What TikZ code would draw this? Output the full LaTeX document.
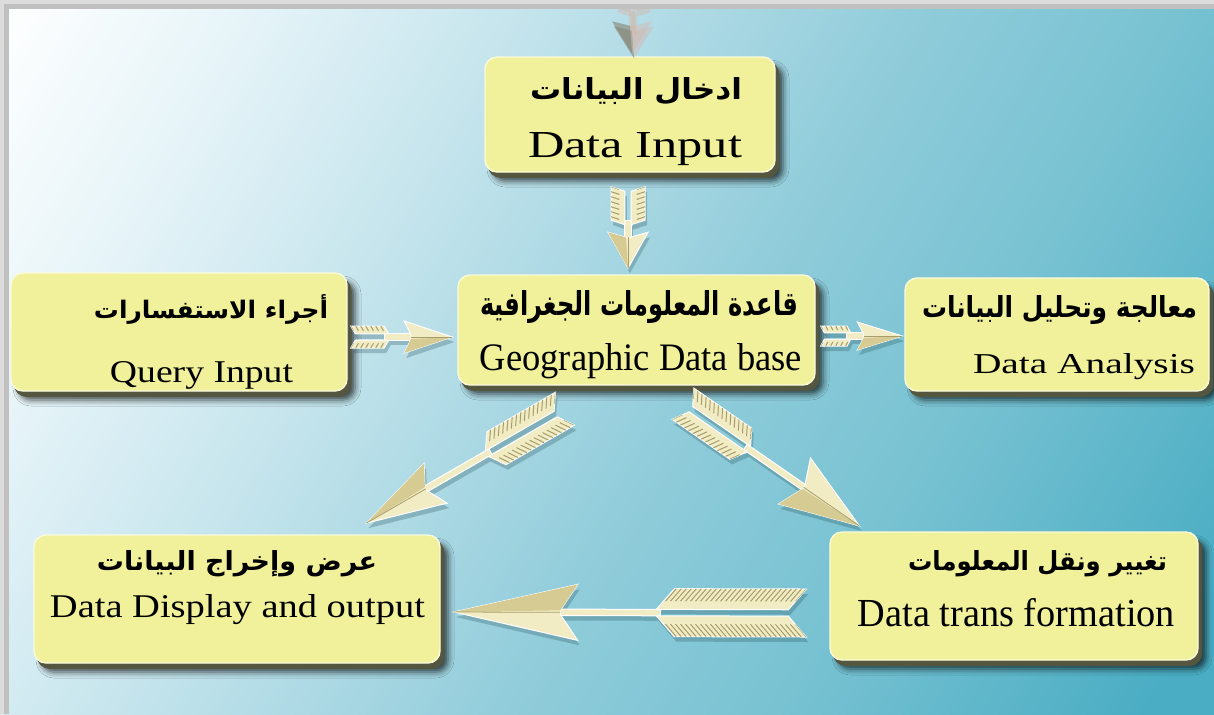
\documentclass[tikz,border=0pt]{standalone}
\usepackage{fontspec}
\setmainfont{Liberation Serif}
\newfontfamily\arabicfont[Script=Arabic]{DejaVu Sans}
\TeXXeTstate=1
\usetikzlibrary{calc,shadows.blur}

% palette
\definecolor{bgA}{HTML}{FFFFFF}
\definecolor{bgB}{HTML}{E6F4F8}
\definecolor{bgC}{HTML}{C6E5ED}
\definecolor{bgD}{HTML}{90CCDA}
\definecolor{bgE}{HTML}{78C2D2}
\definecolor{bgF}{HTML}{4AADC3}
\definecolor{boxyellow}{HTML}{F0F19A}
\definecolor{boxrim}{HTML}{FAFBDC}
\definecolor{boxbevel}{HTML}{55563F}
\definecolor{facream}{HTML}{F1ECC3}
\definecolor{fashade}{HTML}{D5CB93}
\definecolor{fastripe}{HTML}{A79D6B}
\definecolor{fashadow}{HTML}{24505A}
\definecolor{fadedpink}{HTML}{D9B3A8}
\definecolor{fadedgreen}{HTML}{56705F}
\definecolor{framelight}{HTML}{DCDCDC}
\definecolor{framedark}{HTML}{C0C0C0}

% the path box maps onto the 25bp..75bp band of the shading
\pgfdeclarehorizontalshading{bgsh}{100bp}{color(0bp)=(bgA); color(32.5bp)=(bgA);
  color(38bp)=(bgB); color(43.75bp)=(bgC); color(52.5bp)=(bgD);
  color(58.25bp)=(bgE); color(66.25bp)=(bgF); color(100bp)=(bgF)}

% one text line squeezed to a given width and height
\newcommand\arabline[3]{\resizebox{#1}{#2}{\arabicfont\bfseries #3}}
\newcommand\latnline[3]{\resizebox{#1}{#2}{#3}}

\tikzset{
  gbox/.style={rectangle, rounded corners=6pt, inner sep=0pt,
    fill=boxyellow, draw=boxrim, line width=0.7pt,
    blur shadow={shadow xshift=4pt, shadow yshift=-4.5pt,
      shadow blur radius=3pt, shadow opacity=70},
    preaction={fill=boxbevel, draw=boxbevel,
      transform canvas={xshift=1.8pt, yshift=-2.6pt}}},
  txt/.style={inner sep=0pt, anchor=base},
  fa body/.style={fill=facream, draw=white, line width=0.5pt},
  fa dark/.style={fill=fashade},
  fa stripe/.style={draw=fastripe, line width=0.5pt},
  fa ridge/.style={draw=fastripe, line width=0.4pt},
  fa shadowcopy/.style={
    fa body/.style={fill=fashadow, fill opacity=0.28, draw=none},
    fa dark/.style={fill=none, draw=none},
    fa stripe/.style={draw=none},
    fa ridge/.style={draw=none}},
  fa faded/.style={opacity=0.4,
    fa body/.style={fill=fadedpink, draw=none},
    fa dark/.style={fill=fadedgreen},
    fa stripe/.style={draw=none},
    fa ridge/.style={draw=none}},
  % feathered arrow along the local x axis: length, feather length,
  % head length, feather half width, head half width (all in px units)
  pics/featherarrow/.style n args={5}{code={
    \pgfmathsetmacro\aL{#1}\pgfmathsetmacro\aF{#2}\pgfmathsetmacro\aH{#3}
    \pgfmathsetmacro\aW{#4}\pgfmathsetmacro\aWh{#5}
    \pgfmathsetmacro\aS{0.12*\aF}
    \pgfmathsetmacro\aB{\aL-\aH}
    \pgfmathsetmacro\aN{\aB+0.14*\aH}
    \path[fa body] (\aF-4,-3.2) rectangle (\aN+4,3.2);
    \path[fa body] (0,-\aW) -- (\aF-\aS,-\aW) -- (\aF,-3.2) -- (\aS,-3.2) -- cycle;
    \path[fa body] (0,\aW) -- (\aF-\aS,\aW) -- (\aF,3.2) -- (\aS,3.2) -- cycle;
    \begin{scope}
      \clip (0,-\aW) -- (\aF-\aS,-\aW) -- (\aF,-3.2) -- (\aS,-3.2) -- cycle
            (0,\aW) -- (\aF-\aS,\aW) -- (\aF,3.2) -- (\aS,3.2) -- cycle;
      \foreach \k in {-40,-35,...,175}{
        \path[fa stripe] (\k,-\aW) -- ++(0.6*\aS,0.6*\aW-1.9)
                         (\k,\aW) -- ++(0.6*\aS,-0.6*\aW+1.9);
      }
    \end{scope}
    \path[fa body] (\aL,0) -- (\aB,-\aWh) -- (\aN,-2) -- (\aN,2) -- (\aB,\aWh) -- cycle;
    \path[fa dark] (\aL,0) -- (\aN,2) -- (\aB,\aWh) -- cycle;
    \path[fa ridge] (\aL,0) -- (\aN,0);
  }},
}

% feathered connector between two named points, with its drop shadow
\newcommand\featherlink[4][]{%
  \pgfpointdiff{\pgfpointanchor{#2}{center}}{\pgfpointanchor{#3}{center}}%
  \pgfgetlastxy\fadx\fady
  \pgfmathsetmacro\faang{atan2(\fady,\fadx)}%
  \pgfmathsetmacro\falen{2*veclen(\fadx,\fady)}%
  \pic[rotate=\faang, fa shadowcopy, #1] at ($(#2)+(2,5)$) {featherarrow={\falen}#4};
  \pic[rotate=\faang, #1] at (#2) {featherarrow={\falen}#4};
}

\begin{document}
\begin{tikzpicture}[x=0.5pt,y=-0.5pt]
\useasboundingbox (0,0) rectangle (1214,714);

% backdrop
\begin{scope}
  \clip (0,0) rectangle (1214,714);
  \begin{scope}[transform canvas={rotate=-30}]
    \shade[shading=bgsh] (-300,-1200) rectangle (1700,1200);
  \end{scope}
\end{scope}

% boxes
\node[gbox, minimum width=145pt, minimum height=57.5pt] (din) at (630,114.5) {};
\node[gbox, minimum width=178.5pt, minimum height=55pt] (geo) at (636.5,330) {};
\node[gbox, minimum width=168pt, minimum height=59pt] (qin) at (179,332) {};
\node[gbox, minimum width=152pt, minimum height=56.5pt] (ana) at (1057,334.5) {};
\node[gbox, minimum width=203pt, minimum height=64pt] (dsp) at (237,599) {};
\node[gbox, minimum width=184pt, minimum height=64pt] (trn) at (1014,596) {};

% labels
\node[txt] (din-ar) at (636,99) {\arabline{106pt}{11pt}{\beginR ادخال البيانات\endR}};
\node[txt] (din-en) at (635,157) {\latnline{107pt}{12.5pt}{Data Input}};
\node[txt] (geo-ar) at (639,315) {\arabline{159pt}{12.5pt}{\beginR قاعدة المعلومات الجغرافية\endR}};
\node[txt] (geo-en) at (641,370) {\latnline{161pt}{13.5pt}{Geographic Data base}};
\node[txt] (qin-ar) at (211,318) {\arabline{117pt}{12pt}{\beginR أجراء الاستفسارات\endR}};
\node[txt] (qin-en) at (201.5,382) {\latnline{91.5pt}{10.5pt}{Query Input}};
\node[txt] (ana-ar) at (1059.5,317) {\arabline{137.5pt}{11pt}{\beginR معالجة وتحليل البيانات\endR}};
\node[txt] (ana-en) at (1084,373) {\latnline{111pt}{10pt}{Data Analysis}};
\node[txt] (dsp-ar) at (237,570) {\arabline{140pt}{10pt}{\beginR عرض وإخراج البيانات\endR}};
\node[txt] (dsp-en) at (237.5,617) {\latnline{187.5pt}{11.5pt}{Data Display and output}};
\node[txt] (trn-ar) at (1037.5,570) {\arabline{129.5pt}{10pt}{\beginR تغيير ونقل المعلومات\endR}};
\node[txt] (trn-en) at (1016.5,626) {\latnline{158.5pt}{14pt}{Data trans formation}};

% connector end points
\coordinate (a0s) at ($(din.north)+(2,-75)$);
\coordinate (a0e) at ($(din.north)+(2,-3)$);
\coordinate (a1s) at ($(din.south)+(-2,14)$);
\coordinate (a1e) at ($(geo.north)+(-8.5,-6)$);
\coordinate (a2s) at ($(qin.east)+(3,5)$);
\coordinate (a2e) at ($(geo.west)+(-5,7)$);
\coordinate (a3s) at ($(geo.east)+(5,6)$);
\coordinate (a3e) at ($(ana.west)+(-2,1.5)$);
\coordinate (a4s) at ($(geo.south)+(-71.5,23)$);
\coordinate (a4e) at ($(dsp.north)+(129,-11)$);
\coordinate (a5s) at ($(geo.south)+(46.5,18)$);
\coordinate (a5e) at ($(trn.north)+(-154,-5)$);
\coordinate (a6s) at ($(trn.west)+(-23,17)$);
\coordinate (a6e) at ($(dsp.east)+(13,13)$);

% connectors
\featherlink[fa faded]{a0s}{a0e}{{30}{32}{16}{20}}
\featherlink{a1s}{a1e}{{38}{36}{17}{20}}
\featherlink{a2s}{a2e}{{38}{48}{11}{16}}
\featherlink{a3s}{a3e}{{30}{45}{10}{14}}
\featherlink{a4s}{a4e}{{90}{80}{19}{23}}
\featherlink{a5s}{a5e}{{80}{79}{19}{28}}
\featherlink{a6s}{a6e}{{150}{124}{24}{28}}

% frame
\fill[framedark] (0,0) rectangle (1214,9);
\fill[framedark] (0,0) rectangle (9,714);
\fill[framelight] (0,0) rectangle (1214,4);
\fill[framelight] (0,0) rectangle (4,714);
\end{tikzpicture}
\end{document}
